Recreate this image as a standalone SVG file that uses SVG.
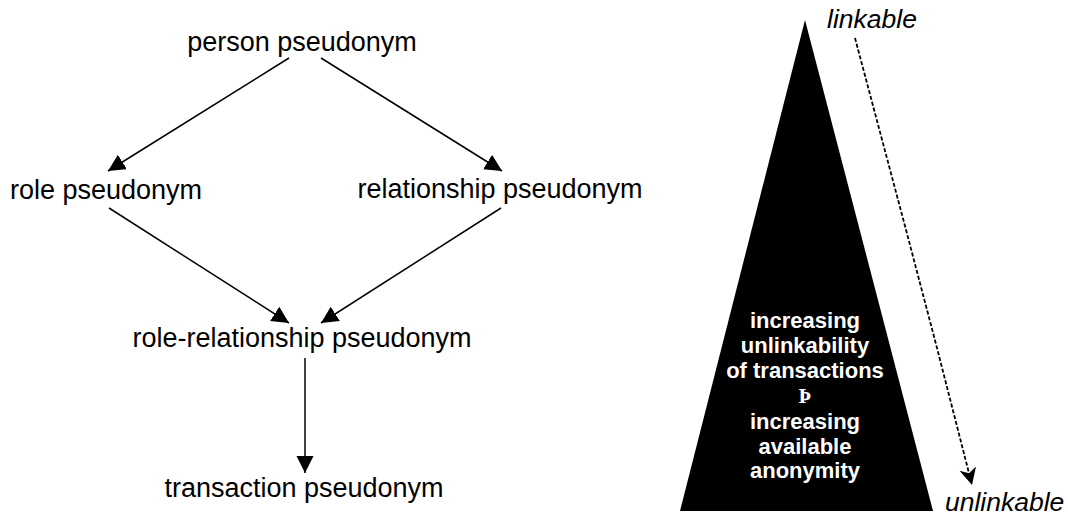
<svg xmlns="http://www.w3.org/2000/svg" width="1068" height="515" viewBox="0 0 1068 515">
<style>
.lbl{font-family:"Liberation Sans",Arial,sans-serif;font-size:27px;fill:#000;text-anchor:middle}
.it{font-family:"Liberation Sans",Arial,sans-serif;font-size:26.5px;font-style:italic;fill:#000}
.in{font-family:"Liberation Sans",Arial,sans-serif;font-size:22px;font-weight:bold;fill:#fff;text-anchor:middle}
.edge{stroke:#000;stroke-width:1.5;fill:none;marker-end:url(#ah)}
.dash{stroke:#000;stroke-width:1.8;fill:none;stroke-dasharray:4 2;marker-end:url(#ah2)}
</style>
<defs>
<marker id="ah" markerUnits="userSpaceOnUse" markerWidth="18" markerHeight="18" refX="17" refY="8.5" orient="auto">
<path d="M0,0 L17,8.5 L0,17 z" fill="#000"/>
</marker>
<marker id="ah2" markerUnits="userSpaceOnUse" markerWidth="18" markerHeight="18" refX="17" refY="8.5" orient="auto">
<path d="M0,0 L17,8.5 L0,17 L5,8.5 z" fill="#000"/>
</marker>
</defs>
<rect width="1068" height="515" fill="#fff"/>
<g id="connectors">
<line class="edge" x1="289" y1="58" x2="108" y2="171"/>
<line class="edge" x1="321" y1="58" x2="502" y2="171"/>
<line class="edge" x1="109" y1="208" x2="289" y2="323"/>
<line class="edge" x1="501" y1="208" x2="321" y2="323"/>
<line class="edge" x1="305" y1="358" x2="305" y2="473"/>
</g>
<g id="person"><text class="lbl" x="302" y="51">person pseudonym</text></g>
<g id="role"><text class="lbl" x="106" y="199">role pseudonym</text></g>
<g id="relationship"><text class="lbl" x="500" y="198">relationship pseudonym</text></g>
<g id="rolerel"><text class="lbl" x="302" y="347">role-relationship pseudonym</text></g>
<g id="transaction"><text class="lbl" x="304" y="497">transaction pseudonym</text></g>
<g id="pyramid">
<polygon points="805,20 933,511 680,511" fill="#000"/>
<text class="in" x="805" y="328">increasing</text>
<text class="in" x="805" y="353">unlinkability</text>
<text class="in" x="805" y="378">of transactions</text>
<text class="in" x="805" y="403" style="font-family:'Liberation Serif',serif;font-size:21px">Þ</text>
<text class="in" x="805" y="429">increasing</text>
<text class="in" x="805" y="454">available</text>
<text class="in" x="805" y="478">anonymity</text>
</g>
<g id="scale">
<text class="it" x="827" y="28">linkable</text>
<text class="it" x="945" y="511">unlinkable</text>
<polyline class="dash" points="855,38 905,226 937,348 972,485"/>
</g>
</svg>
